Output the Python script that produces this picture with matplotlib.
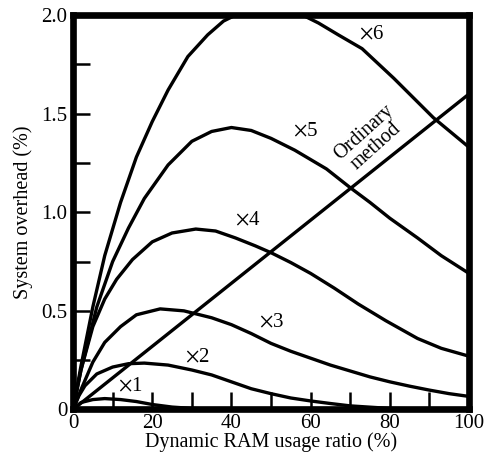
import matplotlib.pyplot as plt

x_ordinary = [0, 100]
y_ordinary = [0, 1.6]

x1 = [0, 2, 5, 8, 12, 16, 20, 25, 30, 40, 100]
y1 = [0, 0.035, 0.05, 0.055, 0.05, 0.04, 0.025, 0.012, 0.005, 0, 0]

x2 = [0, 1.5, 3, 6, 10, 14, 18, 24, 30, 35, 40, 45, 50, 55, 60, 65, 70, 80, 100]
y2 = [0, 0.07, 0.12, 0.18, 0.215, 0.232, 0.235, 0.225, 0.2, 0.175, 0.14, 0.105,
      0.08, 0.058, 0.043, 0.03, 0.018, 0.005, 0]

x3 = [0, 1, 2, 5, 8, 12, 16, 22, 28, 35, 40, 45, 50, 55, 60, 65, 70, 75, 80, 85, 90, 95, 100]
y3 = [0, 0.05, 0.1, 0.24, 0.34, 0.42, 0.48, 0.51, 0.5, 0.465, 0.43, 0.385, 0.335,
      0.295, 0.26, 0.225, 0.195, 0.165, 0.14, 0.118, 0.098, 0.08, 0.066]

x4 = [0, 2, 5, 8, 11, 15, 20, 25, 31, 36, 41, 46, 50, 55, 60, 66, 72, 79, 87, 93, 100]
y4 = [0, 0.2, 0.42, 0.56, 0.66, 0.76, 0.85, 0.895, 0.915, 0.905, 0.87, 0.83, 0.795,
      0.745, 0.69, 0.615, 0.535, 0.45, 0.36, 0.31, 0.27]

x5 = [0, 2, 6, 10, 14, 18, 24, 30, 35, 40, 45, 50, 56, 64, 70, 75, 80, 87, 93, 100]
y5 = [0, 0.2, 0.52, 0.75, 0.92, 1.07, 1.24, 1.36, 1.41, 1.43, 1.415, 1.375, 1.315,
      1.22, 1.125, 1.05, 0.97, 0.87, 0.78, 0.69]

x6 = [0, 2, 5, 8, 12, 16, 20, 24, 29, 34, 38, 43, 48, 53, 58, 62, 67, 73, 81, 91, 100]
y6 = [0, 0.22, 0.52, 0.78, 1.05, 1.28, 1.46, 1.62, 1.79, 1.9, 1.97, 2.02, 2.04,
      2.03, 2.0, 1.96, 1.9, 1.83, 1.68, 1.48, 1.33]

curve_labels = ["1", "2", "3", "4", "5", "6"]
label_x = [14.5, 31.5, 50, 44, 58.8, 75.3]
label_y = [0.115, 0.26, 0.44, 0.955, 1.41, 1.90]

x_ticks = [0, 20, 40, 60, 80, 100]
x_tick_labels = ["0", "20", "40", "60", "80", "100"]
y_ticks = [0, 0.5, 1.0, 1.5, 2.0]
y_tick_labels = ["0", "0.5", "1.0", "1.5", "2.0"]

plt.rcParams["font.family"] = ["Liberation Serif", "DejaVu Serif"]
plt.rcParams["mathtext.fontset"] = "stix"

fig = plt.figure(figsize=(4.87, 4.59), dpi=100)
ax = fig.add_axes([0.150, 0.108, 0.813, 0.859])

lw = 2.4
for xs, ys in [(x1, y1), (x2, y2), (x3, y3), (x4, y4), (x5, y5), (x6, y6),
               (x_ordinary, y_ordinary)]:
    ax.plot(xs, ys, color="black", linewidth=lw, solid_capstyle="butt",
            solid_joinstyle="round")

for txt, tx, ty in zip(curve_labels, label_x, label_y):
    ax.text(tx, ty, "$\\times$" + txt, fontsize=15, ha="center", va="center")

ax.text(75.0, 1.37, "Ordinary\nmethod", fontsize=14.5, ha="center", va="center",
        rotation=42, linespacing=0.95)

ax.set_xlim(0, 100)
ax.set_ylim(0, 2.0)
ax.set_xticks(x_ticks)
ax.set_xticklabels(x_tick_labels)
ax.set_xticks([10, 30, 50, 70, 90], minor=True)
ax.set_yticks(y_ticks)
ax.set_yticklabels(y_tick_labels)
ax.set_yticks([0.25, 0.75, 1.25, 1.75], minor=True)
ax.tick_params(which="both", direction="in", length=12, width=1.8, labelsize=15)
ax.tick_params(axis="x", pad=3)
ax.tick_params(axis="y", pad=4)

for side in ["left", "right", "top", "bottom"]:
    ax.spines[side].set_linewidth(4.8)

ax.set_xlabel("Dynamic RAM usage ratio (%)", fontsize=14.5, labelpad=0)
ax.set_ylabel("System overhead (%)", fontsize=14.5, labelpad=6)

fig.savefig("out.png", dpi=100)
